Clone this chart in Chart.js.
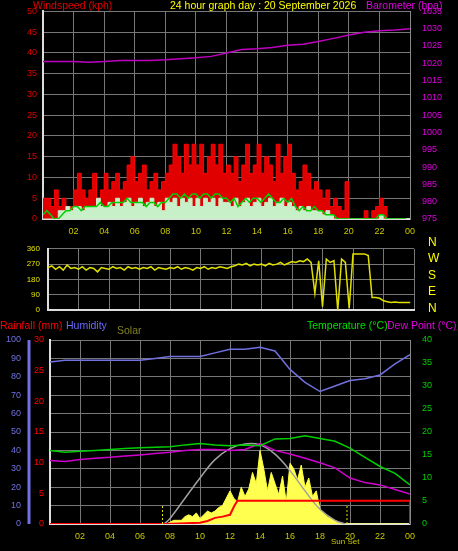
<!DOCTYPE html>
<html><head><meta charset="utf-8">
<script src="https://cdn.jsdelivr.net/npm/chart.js@4.4.1/dist/chart.umd.min.js"></script>
<style>
body{margin:0;background:#000;width:458px;height:551px;overflow:hidden;position:relative;font-family:"Liberation Sans",Arial,sans-serif}
canvas{position:absolute;left:0}
.t{position:absolute;white-space:nowrap;font-size:10.5px;line-height:11px}
</style></head><body>
<canvas id="c1" width="458" height="240" style="top:0"></canvas>
<canvas id="c2" width="458" height="87" style="top:236px"></canvas>
<canvas id="c3" width="458" height="231" style="top:320px"></canvas>
<div class="t" style="left:33px;top:0;color:#e00000">Windspeed (kph)</div>
<div class="t" style="left:170px;top:0;color:#ffff00">24 hour graph day : 20 September 2026</div>
<div class="t" style="left:366px;top:0;color:#e000e0">Barometer (hpa)</div>
<div class="t" style="left:428px;top:237px;color:#ffff00;font-size:12px">N</div>
<div class="t" style="left:428px;top:253px;color:#ffff00;font-size:12px">W</div>
<div class="t" style="left:428px;top:270px;color:#ffff00;font-size:12px">S</div>
<div class="t" style="left:428px;top:286px;color:#ffff00;font-size:12px">E</div>
<div class="t" style="left:428px;top:303px;color:#ffff00;font-size:12px">N</div>
<div class="t" style="left:0;top:320px;color:#ff0000">Rainfall (mm)</div>
<div class="t" style="left:66px;top:320px;color:#6a6aff">Humidity</div>
<div class="t" style="left:117px;top:325px;color:#808020">Solar</div>
<div class="t" style="left:307px;top:320px;color:#00e000">Temperature (°C)</div>
<div class="t" style="left:387px;top:320px;color:#e000e0">Dew Point (°C)</div>
<div class="t" style="left:331px;top:536px;color:#c8c800;font-size:8px">Sun Set</div>
<script>
const baro=[1020.5,1020.5,1020.5,1020.3,1020.5,1020.8,1020.8,1020.8,1021,1021.3,1021.6,1022,1023,1024,1024.2,1024.6,1025.2,1025.5,1026.3,1027.2,1028.2,1029,1029.4,1029.6,1030];
const gust=[5,5,3,7,3,5,0,3, 7,11,7,5,7,11,5,7, 11,7,9,11,7,9,13,15, 9,11,13,7,9,11,7,9, 11,13,18,15,11,18,13,18, 13,18,11,15,18,13,18,11, 13,11,15,9,13,18,11,13, 18,11,15,13,9,18,11,15, 18,11,7,9,13,11,7,9, 7,5,7,3,5,3,2,9, 0,0,0,0,2,0,2,3, 5,3,0,0,0,0,0,0];
const windAvg=[1,2,1,0,0,1,2,2, 3,3,2,3,3,3,3,4, 3,3,4,4,4,4,5,4, 4,4,4,3,4,4,3,4, 4,5,6,6,5,6,5,6, 6,5,6,6,5,6,6,5, 5,4,5,3,4,5,4,5, 5,4,5,6,5,4,4,5, 4,5,3,2,3,2,2,3, 2,2,1,1,1,0,0,0, 0,0,0,0,0,0,0,0, 1,1,0,0,0,0,0,0];
const windSpd=[0,0,0,0,2,2,3,2, 3,3,2,3,3,3,5,3, 3,4,3,5,3,4,5,3, 4,5,3,4,5,3,4,2, 5,4,5,3,5,4,5,3, 5,3,5,4,5,3,5,4, 4,3,5,3,4,5,3,4, 5,3,4,5,3,4,5,3, 4,3,2,3,2,3,2,2, 2,1,2,1,0,0,0,0, 0,0,0,0,0,0,0,0, 1,0,0,0,0,0,0,0];
const windDir=[250,260,240,255,235,265,245,250, 240,255,235,250,245,225,250,245, 240,255,245,250,235,255,245,250, 240,250,245,255,235,250,245,240, 250,245,255,240,250,245,235,250, 245,255,240,250,245,255,250,245, 255,260,270,265,275,260,270,265, 270,260,275,265,270,280,265,275, 285,280,290,285,300,280,100,290, 20,300,280,290,0,300,280,10, 330,330,330,330,320,75,75,70, 55,50,45,48,45,45,45,45];
const hours=[0,1,2,3,4,5,6,7,8,9,10,11,12,13,14,15,16,17,18,19,20,21,22,23,24];
const humidity=[88,89,89,89,89,89,89,90,91,91,91,93,95,95,96,94,84,77,72,75,78,79,81,87,92];
const temperature=[16,15.6,15.8,16,16.2,16.4,16.6,16.7,16.8,17.2,17.5,17.2,17,17.2,17,18.5,18.6,19.2,18.6,18,16.5,14.5,12.5,11,8.5];
const dewPoint=[13.8,13.6,14,14.3,14.5,14.8,15,15.3,15.6,16,16.2,16.2,16,16.2,17.5,16,15.2,14.3,13.3,12.2,10,9,8.5,7.5,6.5];
const rainT=[0,7.7,10,10.5,11,11.5,12,12.3,12.5,24,24];
const rainV=[0,0,0.2,0.5,1,1.2,1.5,3,3.8,3.8,0];
const rainTicks=[0,5,10,15,20,25,30];
const solar=[0,0,0,0,0,0,0,0, 0,0,0,0,0,0,0,0, 0,0,0,0,0,0,0,0, 0,0,0,0,0,0,0,0, 1,2,2,2,4,5,4,6, 3,5,7,6,7,9,10,14, 18,14,12,20,15,19,28,22, 40,30,18,28,22,16,26,12, 33,30,24,32,20,25,15,18, 8,6,4,3,2,1,0,0, 0,0,0,0,0,0,0,0, 0,0,0,0,0,0,0,0];
const solarMaxT=[7.6,8,9,10,11,12,13,14,15,16,17,18,19,19.7];
const solarMaxV=[0,3,14,25,35,41,43.5,43,38,29,18,8,2,0];
const q=a=>a.map((v,i)=>({x:i*0.25,y:v}));
const xy=(t,v)=>t.map((x,i)=>({x,y:v[i]}));
Chart.defaults.animation=false;
Chart.defaults.font.family='"Liberation Sans",Arial,sans-serif';
Chart.defaults.font.size=9;
const grid={color:'#777',borderDash:[2,2],lineWidth:1,drawTicks:false};
const xlab=v=>v==0?'':String(v%24).padStart(2,'0');
function xScale(show){return{type:'linear',axis:'x',min:0,max:24,ticks:{stepSize:2,color:'#c8c800',callback:xlab,display:show,padding:7,maxRotation:0,autoSkip:false},grid:grid,border:{color:'#ddd',width:2}};}
const fitW=w=>s=>{s.width=w;};
const common={responsive:false,devicePixelRatio:1,plugins:{legend:{display:false},tooltip:{enabled:false}},elements:{point:{radius:0}}};
new Chart(document.getElementById('c1'),{type:'line',data:{datasets:[
 {data:q(windAvg),borderColor:'#00d000',borderWidth:1.5,yAxisID:'yw',order:1},
 {data:q(windSpd),borderColor:'#c8f0c8',backgroundColor:'#c8f0c8',fill:'origin',stepped:true,borderWidth:1,yAxisID:'yw',order:2},
 {data:q(gust),borderColor:'#ff0000',backgroundColor:'#e00000',fill:'origin',stepped:true,borderWidth:1,yAxisID:'yw',order:3},
 {data:xy(hours,baro),borderColor:'#c000c0',borderWidth:1.5,yAxisID:'yb',order:0}
]},options:{...common,layout:{padding:{top:11,right:0,left:0,bottom:0}},scales:{
 x:{...xScale(true),afterFit:s=>{s.height=21;}},
 yw:{axis:'y',position:'left',min:0,max:50,ticks:{stepSize:5,color:'#e00000',padding:6},grid:grid,border:{color:'#ddd',width:2},afterFit:fitW(43)},
 yb:{axis:'y',position:'right',min:975,max:1035,ticks:{stepSize:5,color:'#e000e0',padding:4,callback:v=>String(v)},grid:{display:false},border:{color:'#888',width:1},afterFit:fitW(48)}
}}});
new Chart(document.getElementById('c2'),{type:'line',data:{datasets:[
 {data:q(windDir),borderColor:'#e0e000',borderWidth:1.5,yAxisID:'yd'}
]},options:{...common,layout:{padding:{top:8,bottom:0}},scales:{
 x:{...xScale(false),afterFit:s=>{s.height=7;}},
 yd:{axis:'y',position:'left',min:0,max:360,ticks:{stepSize:90,color:'#e0e000',padding:8,font:{size:8}},grid:grid,border:{color:'#ddd',width:2},afterFit:fitW(48)},
 yr:{axis:'y',position:'right',min:0,max:360,ticks:{display:false},grid:{display:false},border:{display:false},afterFit:fitW(44)}
}}});
new Chart(document.getElementById('c3'),{type:'line',data:{datasets:[
 {data:xy(hours,humidity),borderColor:'#7070e0',borderWidth:1.5,yAxisID:'yh',order:0},
 {data:xy(hours,temperature),borderColor:'#00d000',borderWidth:1.5,yAxisID:'yt',order:1},
 {data:xy(hours,dewPoint),borderColor:'#d000d0',borderWidth:1.5,yAxisID:'yt',order:2},
 {data:xy(solarMaxT,solarMaxV),borderColor:'#a0a0a0',borderWidth:1.5,tension:0.4,yAxisID:'yh',order:3},
 {data:xy(rainT,rainV),borderColor:'#ff0000',borderWidth:2,yAxisID:'yrain',order:-1},
 {data:q(solar),borderColor:'#ffff40',backgroundColor:'#ffff50',fill:'origin',borderWidth:1,yAxisID:'yh',order:5}
]},options:{...common,layout:{padding:{top:20,left:28}},scales:{
 x:{...xScale(true),afterFit:s=>{s.height=27;}},
 yh:{axis:'y',position:'left',min:0,max:100,ticks:{display:false},grid:grid,border:{display:false},afterFit:fitW(0)},
 yrain:{axis:'y',position:'left',min:0,max:30,ticks:{display:false},grid:{display:false},border:{color:'#ddd',width:2},afterFit:fitW(22)},
 yt:{axis:'y',position:'right',min:0,max:40,ticks:{stepSize:5,color:'#00d000',padding:4},grid:{display:false},border:{color:'#888',width:1},afterFit:fitW(48)}
}},plugins:[{id:'sun',afterDatasetsDraw(c){const x=c.scales.x,a=c.chartArea,g=c.ctx;g.save();g.strokeStyle='#e0e000';g.setLineDash([2,2]);[7.5,19.8].forEach(t=>{const px=x.getPixelForValue(t);g.beginPath();g.moveTo(px,a.bottom);g.lineTo(px,a.bottom-18);g.stroke();});g.setLineDash([]);
 g.font='9px "Liberation Sans",Arial';g.textAlign='right';g.textBaseline='middle';
 const h=c.scales.yh,r=c.scales.yrain;
 g.fillStyle='#7070e0';for(let v=0;v<=100;v+=10)g.fillText(String(v),21,h.getPixelForValue(v));
 g.strokeStyle='#7070e0';g.lineWidth=3;g.beginPath();g.moveTo(29,a.top);g.lineTo(29,a.bottom);g.stroke();
 g.fillStyle='#ff0000';rainTicks.forEach(v=>g.fillText(String(v),44,r.getPixelForValue(v)));
 g.restore();}}]});
</script></body></html>
